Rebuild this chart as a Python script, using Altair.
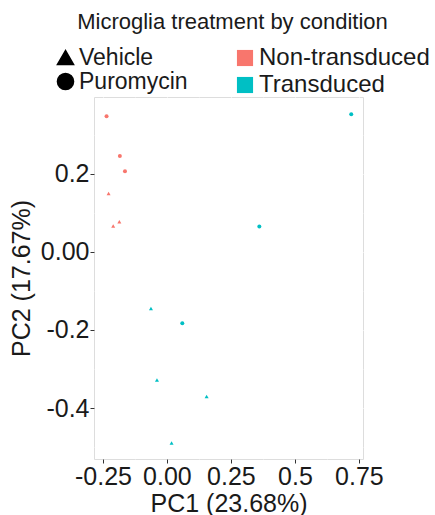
import altair as alt
import pandas as pd

# ---- data ----
pc1 = [-0.236, -0.184, -0.164, -0.228, -0.210, -0.186, 0.361, 0.720, -0.0625, 0.060, -0.039, 0.155, 0.018]
pc2 = [0.347, 0.245, 0.206, 0.149, 0.066, 0.077, 0.065, 0.352, -0.145, -0.183, -0.328, -0.370, -0.489]
condition = ["Non-transduced"] * 6 + ["Transduced"] * 7
treatment = ["Puromycin", "Puromycin", "Puromycin", "Vehicle", "Vehicle", "Vehicle",
             "Puromycin", "Puromycin", "Vehicle", "Puromycin", "Vehicle", "Vehicle", "Vehicle"]

x_ticks = [-0.25, 0.0, 0.25, 0.5, 0.75]
x_labels = ["-0.25", "0.00", "0.25", "0.5", "0.75"]
x_minor = [-0.125, 0.125, 0.375, 0.625]
y_ticks = [0.2, 0.0, -0.2, -0.4]
y_labels = ["0.2", "0.00", "-0.2", "-0.4"]
y_minor = [0.3, 0.1, -0.1, -0.3, -0.5]

cond_levels = ["Non-transduced", "Transduced"]
cond_colors = ["#F8766D", "#00BFC4"]
treat_levels = ["Vehicle", "Puromycin"]
treat_shapes = ["triangle-up", "circle"]

df = pd.DataFrame({"PC1": pc1, "PC2": pc2, "Condition": condition, "Treatment": treatment})

FONT = "Liberation Sans"
TXT = "#1a1a1a"
TICK_FS = 25
LEG_FS = 24


def label_expr(vals, labs):
    expr = "''"
    for v, l in reversed(list(zip(vals, labs))):
        expr = f"abs(datum.value - ({v})) < 1e-9 ? '{l}' : ({expr})"
    return expr


xscale = alt.Scale(domain=[-0.285, 0.766], nice=False, zero=False)
yscale = alt.Scale(domain=[-0.530, 0.396], nice=False, zero=False)

minor = alt.Chart(df).mark_point(opacity=0).encode(
    x=alt.X("PC1:Q", scale=xscale,
            axis=alt.Axis(values=x_minor, labels=False, ticks=False, domain=False, title=None,
                          orient="bottom", grid=True, gridColor="white", gridWidth=0.55)),
    y=alt.Y("PC2:Q", scale=yscale,
            axis=alt.Axis(values=y_minor, labels=False, ticks=False, domain=False, title=None,
                          orient="left", grid=True, gridColor="white", gridWidth=0.55)),
)

points = alt.Chart(df).mark_point(filled=True, size=16, opacity=1).encode(
    x=alt.X("PC1:Q", scale=xscale,
            axis=alt.Axis(values=x_ticks, labelExpr=label_expr(x_ticks, x_labels),
                          title="PC1 (23.68%)", orient="bottom", grid=True, gridColor="white",
                          gridWidth=1.1, domain=False, tickColor="#333333", tickSize=4,
                          labelFontSize=TICK_FS, labelColor=TXT, labelFont=FONT, labelPadding=1,
                          titleFontSize=TICK_FS, titleColor=TXT, titleFont=FONT,
                          titleFontWeight="normal", titlePadding=2, labelFlush=False)),
    y=alt.Y("PC2:Q", scale=yscale,
            axis=alt.Axis(values=y_ticks, labelExpr=label_expr(y_ticks, y_labels),
                          title="PC2 (17.67%)", orient="left", grid=True, gridColor="white",
                          gridWidth=1.1, domain=False, tickColor="#333333", tickSize=4,
                          labelFontSize=TICK_FS, labelColor=TXT, labelFont=FONT, labelPadding=1,
                          titleFontSize=TICK_FS, titleColor=TXT, titleFont=FONT,
                          titleFontWeight="normal", titlePadding=6, labelFlush=False)),
    color=alt.Color("Condition:N", scale=alt.Scale(domain=cond_levels, range=cond_colors),
                    legend=alt.Legend(orient="none", legendX=139, legendY=-51, title=None,
                                      symbolType="square", symbolSize=260, symbolOpacity=1,
                                      symbolStrokeWidth=0, labelFontSize=LEG_FS, labelFont=FONT,
                                      labelColor=TXT, rowPadding=3, padding=0, labelOffset=2,
                                      labelLimit=400)),
    shape=alt.Shape("Treatment:N", scale=alt.Scale(domain=treat_levels, range=treat_shapes),
                    legend=alt.Legend(orient="none", legendX=-40, legendY=-51, title=None,
                                      symbolSize=260, symbolFillColor="black",
                                      symbolStrokeColor="black", symbolOpacity=1,
                                      labelFontSize=23, labelFont=FONT, labelColor=TXT,
                                      rowPadding=0, padding=0, labelOffset=2, labelLimit=400)),
)

chart = alt.layer(minor, points).resolve_axis(x="independent", y="independent").properties(
    width=269,
    height=362,
    autosize=alt.AutoSizeParams(type="none"),
    padding={"left": 94, "top": 97, "right": 72, "bottom": 56},
    title=alt.TitleParams("Microglia treatment by condition", fontSize=22, font=FONT,
                          color=TXT, fontWeight="normal", anchor="middle",
                          baseline="alphabetic", offset=-5, dx=4),
).configure_view(fill="#EBEBEB", stroke=None).configure(background="white")

chart.save("out.html", embed_options={"renderer": "svg", "actions": False})
